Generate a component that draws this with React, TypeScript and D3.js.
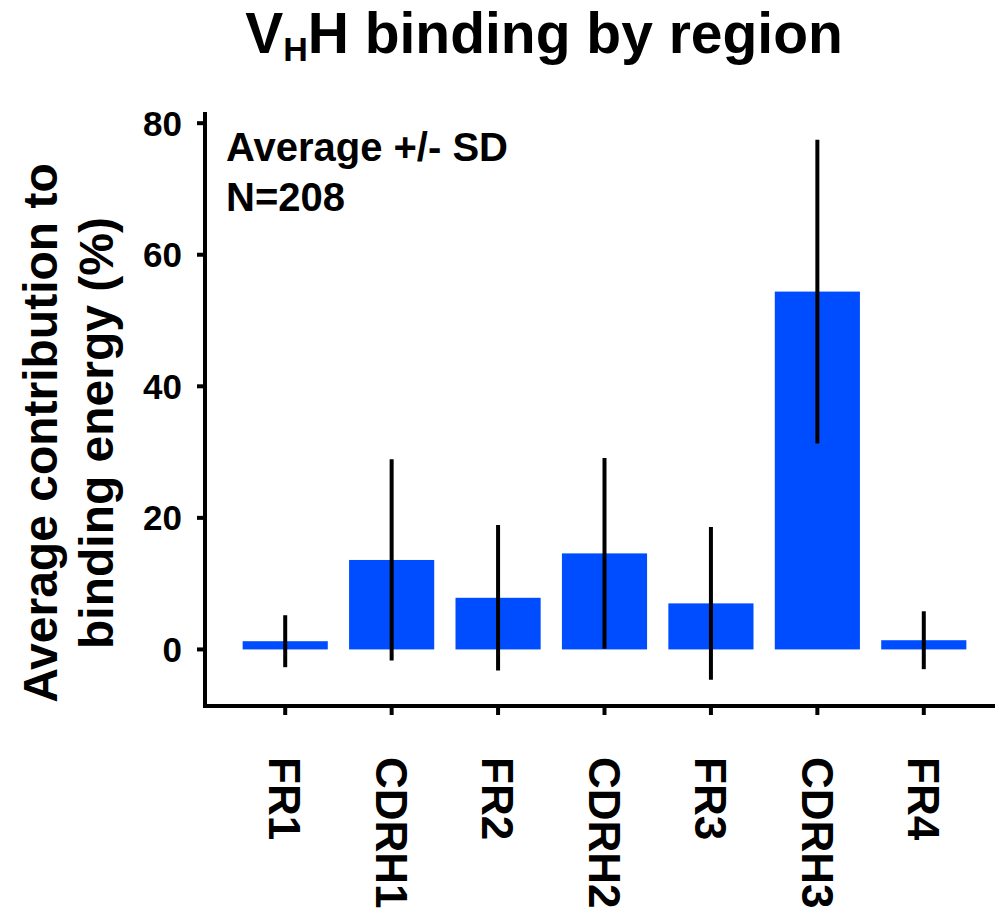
import React from "react";
import * as d3 from "d3";

const categories = ["FR1", "CDRH1", "FR2", "CDRH2", "FR3", "CDRH3", "FR4"];
const means = [1.25, 13.6, 7.85, 14.6, 7.0, 54.4, 1.4];
const sds = [3.95, 15.3, 11.05, 14.5, 11.6, 23.1, 4.4];
const yTicks = [0, 20, 40, 60, 80];

const FONT = "'Liberation Sans', Arial, Helvetica, sans-serif";
const BAR_COLOR = "#004DFF";

export default function App() {
  const W = 995;
  const H = 916;
  const x = d3
    .scaleBand<string>()
    .domain(categories)
    .range([232, 977])
    .paddingInner(0.2)
    .paddingOuter(0.1);
  const y = d3.scaleLinear().domain([-8.6, 81.7]).range([706, 112]);
  const axisX = 205;
  const axisY = 706;

  return (
    <svg
      width={W}
      height={H}
      style={{ position: "absolute", left: 0, top: 0, background: "#fff" }}
      fontFamily={FONT}
      fontWeight="bold"
    >
      {/* title */}
      <text x={544} y={53} textAnchor="middle" fontSize={57}>
        <tspan>V</tspan>
        <tspan fontSize={34} dy={8}>H</tspan>
        <tspan dy={-8}>H binding by region</tspan>
      </text>

      {/* bars */}
      {categories.map((c, i) => (
        <rect
          key={c}
          x={x(c)}
          width={x.bandwidth()}
          y={y(Math.max(0, means[i]))}
          height={Math.abs(y(means[i]) - y(0))}
          fill={BAR_COLOR}
        />
      ))}

      {/* error bars */}
      {categories.map((c, i) => (
        <line
          key={c + "e"}
          x1={(x(c) as number) + x.bandwidth() / 2}
          x2={(x(c) as number) + x.bandwidth() / 2}
          y1={y(means[i] + sds[i])}
          y2={y(means[i] - sds[i])}
          stroke="#000"
          strokeWidth={4}
        />
      ))}

      {/* y axis */}
      <line x1={axisX} x2={axisX} y1={112} y2={axisY + 2} stroke="#000" strokeWidth={4} />
      {yTicks.map((t) => (
        <g key={t}>
          <line x1={axisX - 8} x2={axisX} y1={y(t)} y2={y(t)} stroke="#000" strokeWidth={4} />
          <text x={182} y={y(t)} dy="0.36em" textAnchor="end" fontSize={35}>
            {t}
          </text>
        </g>
      ))}

      {/* x axis */}
      <line x1={axisX - 2} x2={W} y1={axisY} y2={axisY} stroke="#000" strokeWidth={4} />
      {categories.map((c) => {
        const cx = (x(c) as number) + x.bandwidth() / 2;
        return (
          <g key={c + "t"}>
            <line x1={cx} x2={cx} y1={axisY} y2={axisY + 9} stroke="#000" strokeWidth={4} />
            <text
              transform={`translate(${cx},757) rotate(90)`}
              dy="0.36em"
              textAnchor="start"
              fontSize={44}
            >
              {c}
            </text>
          </g>
        );
      })}

      {/* y label */}
      <text transform={`translate(57,433) rotate(-90)`} textAnchor="middle" fontSize={48}>
        Average contribution to
      </text>
      <text transform={`translate(113,433) rotate(-90)`} textAnchor="middle" fontSize={48}>
        binding energy (%)
      </text>

      {/* annotation */}
      <text x={226} y={161} fontSize={40}>
        Average +/- SD
      </text>
      <text x={226} y={211} fontSize={40}>
        N=208
      </text>
    </svg>
  );
}
